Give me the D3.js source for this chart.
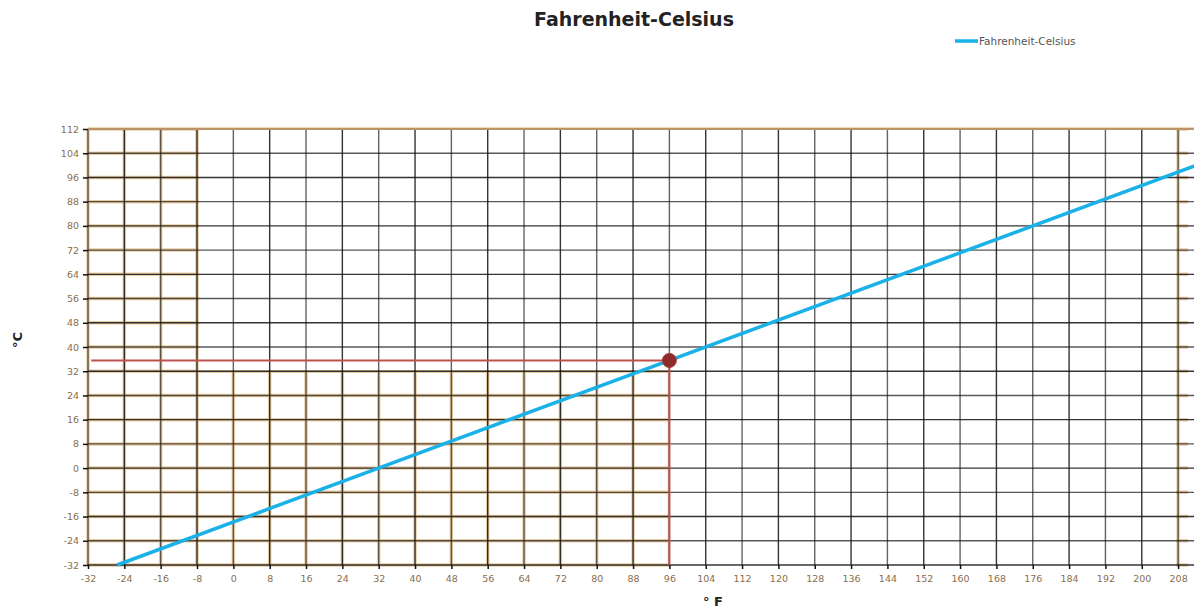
<!DOCTYPE html>
<html><head><meta charset="utf-8">
<script src="https://cdn.jsdelivr.net/npm/d3@7"></script>
<style>body{margin:0;background:#fff}svg{display:block}</style>
</head><body><div id="chart"></div>
<script>
const title = "Fahrenheit-Celsius";
const seriesName = "Fahrenheit-Celsius";
const xTicks = d3.range(-32, 209, 8);
const yTicks = d3.range(-32, 113, 8);
const lineF = [-25.6, 212];
const lineC = [-32, 100];
const markF = [96];
const markC = [35.56];
const xLabel = "° F";
const yLabel = "°C";

const W = 1194, H = 608;
const svg = d3.select("#chart").append("svg").attr("width", W).attr("height", H);
const x = d3.scaleLinear().domain([-32, 211.5]).range([88, 1194]);
const y = d3.scaleLinear().domain([-32, 112]).range([565, 129]);

// tan highlight regions (clip)
const defs = svg.append("defs");
const cp = defs.append("clipPath").attr("id", "tan");
cp.append("rect").attr("x", x(-32) - 4).attr("y", y(112) - 3).attr("width", x(-8) - x(-32) + 6).attr("height", y(-32) - y(112) + 6);
cp.append("rect").attr("x", x(-32) - 4).attr("y", y(32) - 1).attr("width", x(96) - x(-32) + 4).attr("height", y(-32) - y(32) + 4);
cp.append("rect").attr("x", x(208) - 2).attr("y", y(112) - 3).attr("width", 12).attr("height", y(-32) - y(112) + 6);
cp.append("rect").attr("x", x(-32)).attr("y", y(112) - 3).attr("width", W).attr("height", 4);

const tanG = svg.append("g").attr("clip-path", "url(#tan)");
xTicks.forEach(v => tanG.append("line").attr("x1", x(v)).attr("x2", x(v)).attr("y1", y(112)).attr("y2", y(-32))
  .attr("stroke", "#e3c08f").attr("stroke-width", 3.5).attr("stroke-opacity", 0.8));
yTicks.forEach(v => tanG.append("line").attr("x1", x(-32)).attr("x2", W).attr("y1", y(v)).attr("y2", y(v))
  .attr("stroke", "#e3c08f").attr("stroke-width", 3.5).attr("stroke-opacity", 0.8));

// grid
const grid = svg.append("g");
xTicks.forEach((v, i) => grid.append("line").attr("x1", x(v)).attr("x2", x(v)).attr("y1", y(112)).attr("y2", y(-32))
  .attr("stroke", "#111").attr("stroke-opacity", i % 2 ? 0.85 : 0.65).attr("stroke-width", 1.4));
yTicks.forEach((v, i) => grid.append("line").attr("x1", x(-32)).attr("x2", W).attr("y1", y(v)).attr("y2", y(v))
  .attr("stroke", "#111").attr("stroke-opacity", i % 2 ? 0.7 : 0.85).attr("stroke-width", 1.4));
svg.append("line").attr("x1", x(-32)).attr("x2", W).attr("y1", y(112)).attr("y2", y(112))
  .attr("stroke", "#b89468").attr("stroke-width", 2);

// axes
const fmt = d => String(d);
const yAxis = svg.append("g").attr("transform", `translate(${x(-32)},0)`)
  .call(d3.axisLeft(y).tickValues(yTicks).tickSize(5).tickPadding(4).tickFormat(fmt));
const xAxis = svg.append("g").attr("transform", `translate(0,${y(-32)})`)
  .call(d3.axisBottom(x).tickValues(xTicks).tickSize(4).tickPadding(6).tickFormat(fmt));
[yAxis, xAxis].forEach(a => {
  a.select(".domain").remove();
  a.selectAll(".tick line").attr("stroke", "#111").attr("stroke-width", 1.5);
  a.selectAll("text").attr("fill", "#8a6e4c").attr("font-family", "DejaVu Sans").attr("font-size", 9.5);
});

// reference lines
const red = "#c0504d";
svg.append("line").attr("x1", x(-31.3)).attr("x2", x(markF[0])).attr("y1", y(markC[0])).attr("y2", y(markC[0]))
  .attr("stroke", red).attr("stroke-width", 2);
svg.append("line").attr("x1", x(markF[0])).attr("x2", x(markF[0])).attr("y1", y(markC[0])).attr("y2", y(-32))
  .attr("stroke", red).attr("stroke-width", 2);

// series line
const pts = lineF.map((f, i) => [f, lineC[i]]);
svg.append("path").datum(pts).attr("d", d3.line().x(d => x(d[0])).y(d => y(d[1])))
  .attr("fill", "none").attr("stroke", "#1ab0e8").attr("stroke-width", 3.5);

// marker
svg.selectAll(".mk").data(markF).enter().append("circle")
  .attr("cx", d => x(d)).attr("cy", (d, i) => y(markC[i])).attr("r", 7)
  .attr("fill", "#8e2b2b").attr("stroke", "#a83a3a").attr("stroke-width", 1);

// title
svg.append("text").attr("x", 634).attr("y", 26).attr("text-anchor", "middle")
  .attr("font-family", "DejaVu Sans").attr("font-weight", "bold").attr("font-size", 19).attr("fill", "#222").text(title);

// legend
svg.append("line").attr("x1", 955).attr("x2", 978).attr("y1", 41).attr("y2", 41).attr("stroke", "#1ab0e8").attr("stroke-width", 3.5);
svg.append("text").attr("x", 979).attr("y", 44.5).attr("font-family", "DejaVu Sans").attr("font-size", 10.5)
  .attr("fill", "#555").text(seriesName);

// axis titles
svg.append("text").attr("transform", "translate(22,340) rotate(-90)").attr("text-anchor", "middle")
  .attr("font-family", "DejaVu Sans").attr("font-weight", "bold").attr("font-size", 13).attr("fill", "#222").text(yLabel);
svg.append("text").attr("x", 713).attr("y", 606).attr("text-anchor", "middle")
  .attr("font-family", "DejaVu Sans").attr("font-weight", "bold").attr("font-size", 13).attr("fill", "#222").text(xLabel);
</script></body></html>
